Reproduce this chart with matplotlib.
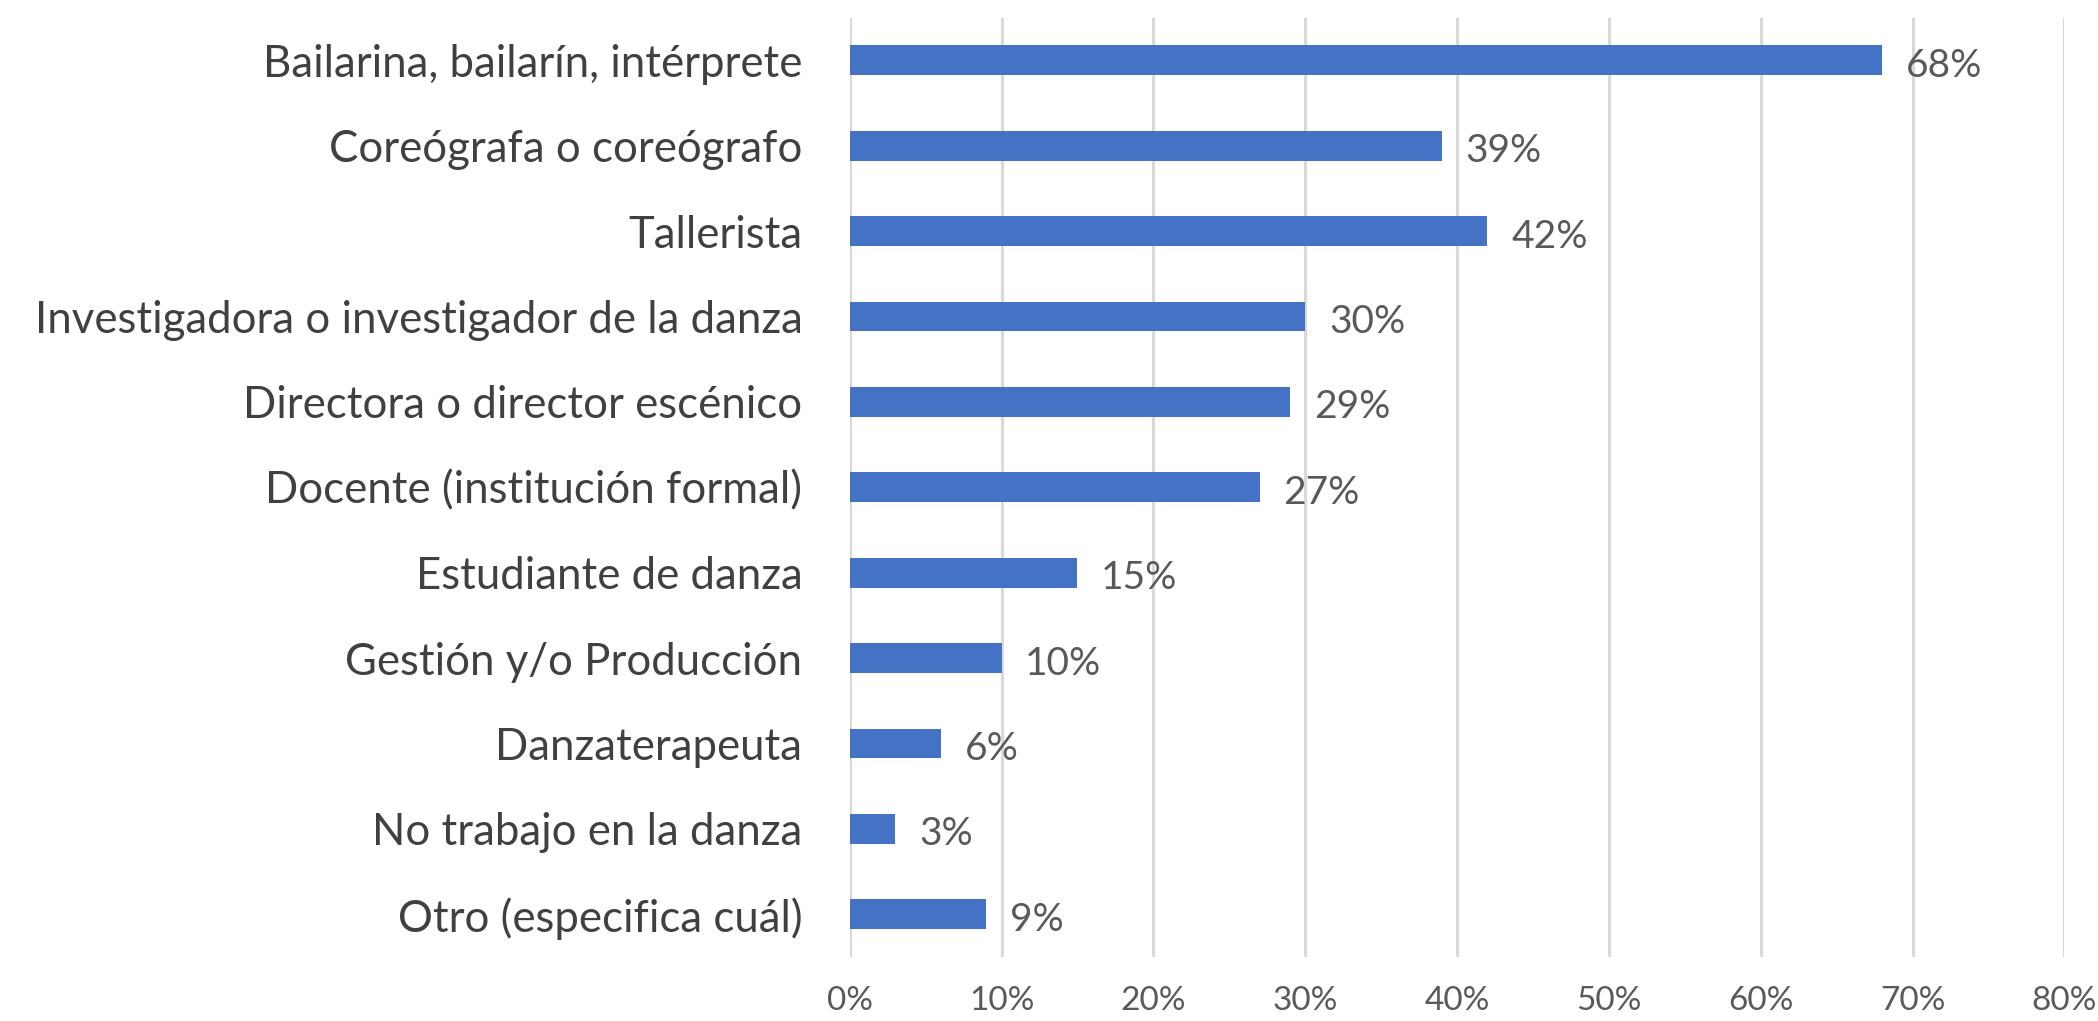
import matplotlib
matplotlib.use("Agg")
import matplotlib.pyplot as plt
from matplotlib.ticker import FuncFormatter

# Categories from top to bottom
categories = [
    "Bailarina, bailarín, intérprete",
    "Coreógrafa o coreógrafo",
    "Tallerista",
    "Investigadora o investigador de la danza",
    "Directora o director escénico",
    "Docente (institución formal)",
    "Estudiante de danza",
    "Gestión y/o Producción",
    "Danzaterapeuta",
    "No trabajo en la danza",
    "Otro (especifica cuál)",
]
values = [68, 39, 42, 30, 29, 27, 15, 10, 6, 3, 9]
x_ticks = [0, 10, 20, 30, 40, 50, 60, 70, 80]

plt.rcParams['font.family'] = ['Lato', 'DejaVu Sans']

fig = plt.figure(figsize=(20.98, 10.21), dpi=100)
ax = fig.add_axes([0.405, 0.0627, 0.579, 0.920])

ypos = list(range(len(categories)))
ax.barh(ypos, values, height=0.35, color='#4472C4', zorder=3)

# value labels next to each bar
for y, v in zip(ypos, values):
    ax.annotate(f"{v}%", xy=(v, y), xytext=(17, -4), textcoords='offset points',
                va='center', ha='left', fontsize=28, color='#595959')

ax.set_yticks(ypos)
ax.set_yticklabels(categories, fontsize=31.5, color='#404040')
ax.set_ylim(len(categories) - 0.5, -0.5)

ax.set_xlim(0, 80)
ax.set_xticks(x_ticks)
ax.xaxis.set_major_formatter(FuncFormatter(lambda v, p: f"{v:.0f}%"))
ax.tick_params(axis='x', labelsize=24, labelcolor='#595959', length=0, pad=21)
ax.tick_params(axis='y', length=0, pad=34)

ax.grid(axis='x', color='#d9d9d9', linewidth=2.2, zorder=0)
for s in ax.spines.values():
    s.set_visible(False)

fig.savefig('out.png', dpi=100)
